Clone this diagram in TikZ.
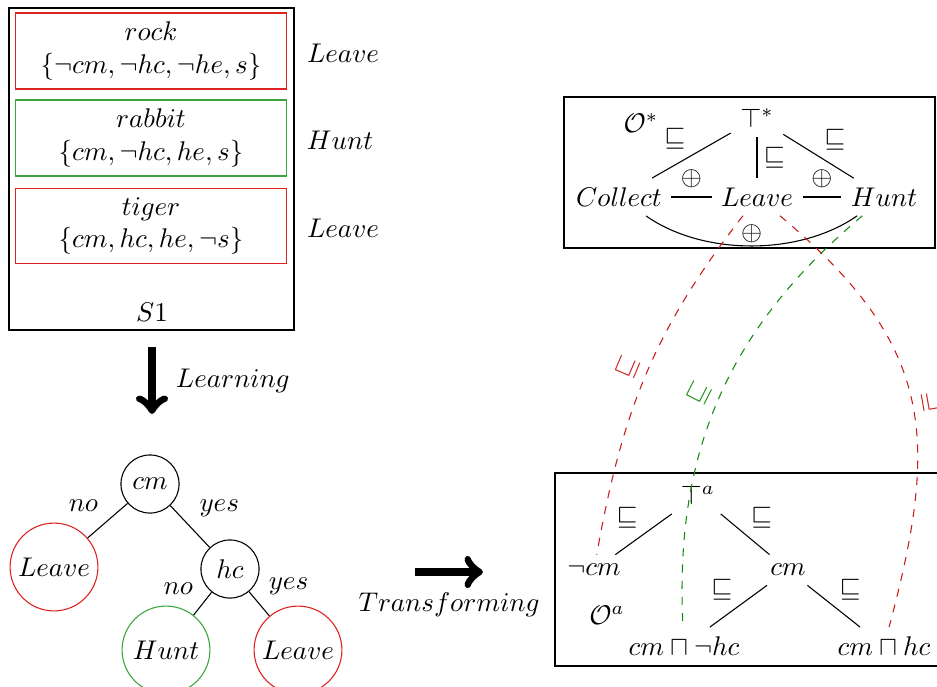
\documentclass[tikz,border=0pt]{standalone}
\usepackage{amssymb}
\definecolor{boxred}{RGB}{222,34,34}
\definecolor{boxgreen}{RGB}{60,165,60}
\definecolor{linered}{RGB}{200,30,30}
\definecolor{linegreen}{RGB}{20,140,20}
\tikzset{
  sample/.style={draw,minimum width=100.6pt,minimum height=27pt,align=center},
  test/.style={draw,circle,minimum size=21.5pt,inner sep=0pt},
  leaf/.style={draw,circle,minimum size=32.5pt,inner sep=0pt},
  bigarrow/.style={->,line width=3pt},
  rel/.style={inner sep=2pt},
  mapline/.style={dashed}
}
\begin{document}
\begin{tikzpicture}[x=0.37pt,y=0.37pt,yscale=-1,xscale=1]
\useasboundingbox (0,0) rectangle (937,686);
\clip (0,0) rectangle (937,686);

% samples
\draw (9,8) rectangle (294,330);
\node[sample,draw=boxred] (rock) at (151,51) {$rock$\\$\{\neg cm,\neg hc,\neg he,s\}$};
\node[sample,draw=boxgreen] (rabbit) at (151,138) {$rabbit$\\$\{cm,\neg hc,he,s\}$};
\node[sample,draw=boxred] (tiger) at (151,226) {$tiger$\\$\{cm,hc,he,\neg s\}$};
\node (sone) at (152,312) {$S1$};
\node (actA) at (343,53) {$Leave$};
\node (actB) at (340,140) {$Hunt$};
\node (actC) at (343,228) {$Leave$};

% learning
\coordinate (lrnA) at (152,347);
\coordinate (lrnB) at (152,414);
\draw[bigarrow] (lrnA) -- node[right=4pt]{$Learning$} (lrnB);

% decision tree
\node[test] (cm) at (150,484) {$cm$};
\node[leaf,draw=boxred] (lvA) at (54,567) {$Leave$};
\node[test] (hc) at (230,569) {$hc$};
\node[leaf,draw=boxgreen] (hunt) at (166,650) {$Hunt$};
\node[leaf,draw=boxred] (lvB) at (298,650) {$Leave$};
\draw (cm) -- node[above left]{$no$} (lvA);
\draw (cm) -- node[above right]{$yes$} (hc);
\draw (hc) -- node[above left]{$no$} (hunt);
\draw (hc) -- node[above right]{$yes$} (lvB);

% transforming
\coordinate (trA) at (415,572);
\coordinate (trB) at (483,572);
\draw[bigarrow] (trA) -- node[below=3pt]{$Transforming$} (trB);

% abstract ontology
\draw (564,97) rectangle (935,248);
\node (ostar) at (641,123) {$\mathcal{O}^*$};
\node (topS) at (757,118) {$\top^*$};
\node (collect) at (619,197) {$Collect$};
\node (leave) at (757,197) {$Leave$};
\node (huntS) at (884,197) {$Hunt$};
\draw (topS) -- node[rel,above left]{$\sqsubseteq$} (collect);
\draw (topS) -- node[right=-1pt]{$\sqsubseteq$} (leave);
\draw (topS) -- node[rel,above right]{$\sqsubseteq$} (huntS);
\draw (collect) -- node[above]{$\oplus$} (leave);
\draw (leave) -- node[above]{$\oplus$} (huntS);
\draw (collect.-35) to[out=35,in=145,looseness=.85] node[above,inner sep=1pt]{$\oplus$} (huntS.-145);

% agent ontology
\draw (555,473) rectangle (950,666);
\node (oa) at (607,615) {$\mathcal{O}^a$};
\node (topA) at (698,495) {$\top^a$};
\node (negcm) at (594,570) {$\neg cm$};
\node (cmA) at (788,570) {$cm$};
\node (cmnhc) at (684,646) {$cm\sqcap\neg hc$};
\node (cmhc) at (884,646) {$cm\sqcap hc$};
\draw (topA) -- node[rel,above left]{$\sqsubseteq$} (negcm);
\draw (topA) -- node[rel,above right]{$\sqsubseteq$} (cmA);
\draw (cmA) -- node[rel,above left]{$\sqsubseteq$} (cmnhc);
\draw (cmA) -- node[rel,above right]{$\sqsubseteq$} (cmhc);

% mappings
\draw[mapline,linered] ([xshift=-5.2pt]leave.south) to[out=128,in=-80] node[pos=.5,rotate=67,anchor=south]{$\sqsubseteq$} (negcm.80);
\draw[mapline,linegreen] ([xshift=-8pt]huntS.south) to[out=140,in=-93] node[pos=.51,rotate=63,anchor=south]{$\sqsubseteq$} (cmnhc.93);
\draw[mapline,linered] ([xshift=8.5pt]leave.south) to[out=40,in=-75,looseness=1.2] node[pos=.52,rotate=-80,anchor=south]{$\sqsupseteq$} (cmhc.75);

\end{tikzpicture}
\end{document}
